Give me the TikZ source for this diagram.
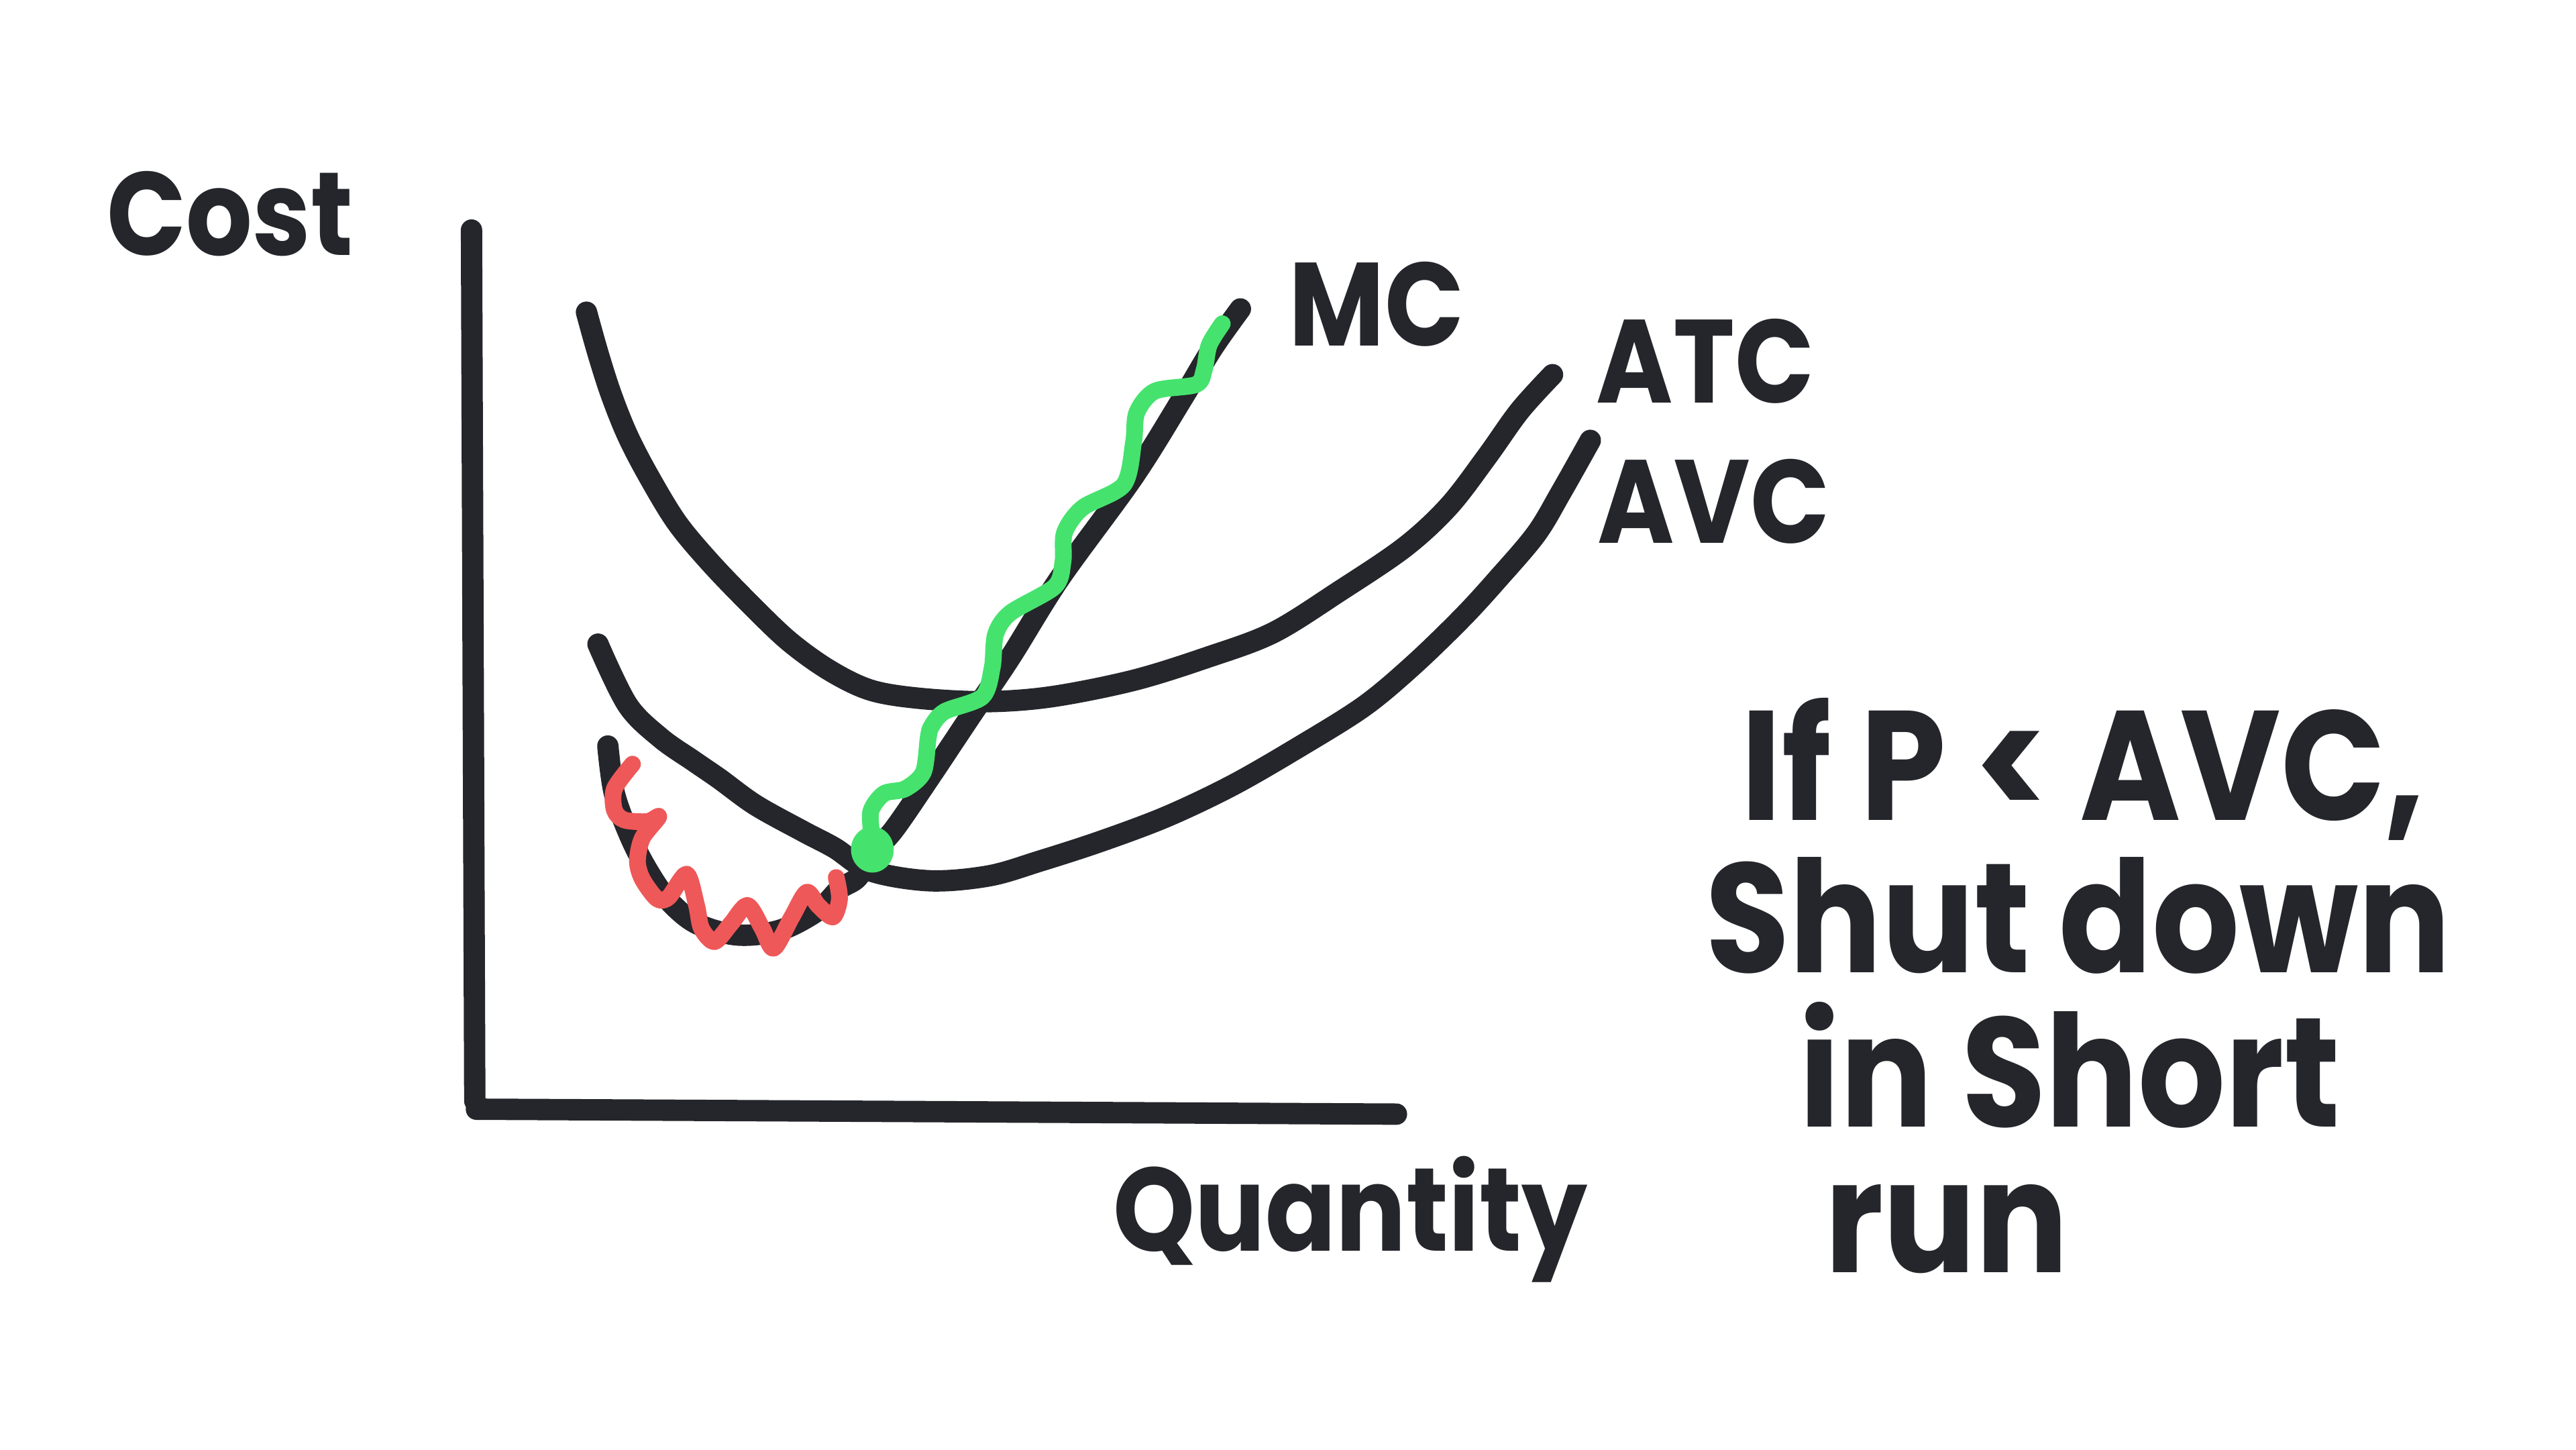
\documentclass[tikz,border=0pt]{standalone}
\usepackage{xcolor}
\usepackage{fontspec}
\setmainfont{Poppins}[FakeStretch=0.88]
\usepackage{tikz}
\definecolor{ink}{HTML}{25262B}
\definecolor{lossred}{HTML}{EF5858}
\definecolor{gaingreen}{HTML}{45E36E}
\tikzset{
    curve/.style={draw=ink, line width=3.7pt, line cap=round, line join=round},
    wiggle/.style={line width=2.9pt, line cap=round, line join=round},
    % Label Styles
    tag/.style={text=ink, inner sep=0pt, font=\bfseries\fontsize{20.5}{24}\selectfont},
    note/.style={text=ink, inner sep=0pt, font=\bfseries\fontsize{27}{32}\selectfont}
}
\begin{document}
\begin{tikzpicture}[x=0.1mm, y=-0.1mm]
    \fill[white] (0,0) rectangle (1568,882);
    \useasboundingbox (0,0) rectangle (1568,882);

    % axes
    \draw[curve] (287,140) -- (289,670);
    \draw[curve] (290,675) -- (850,678);

    % cost curves
    \draw[curve] plot[smooth, tension=0.55] coordinates {(357,190) (364,215) (372,240) (382,265) (395,290) (412,318) (432,342) (455,366) (480,390) (505,408) (530,420) (560,425) (600,427) (640,424) (690,414) (735,400) (775,385) (815,360) (855,333) (882,308) (905,278) (925,250) (945,228)};
    \draw[curve] plot[smooth, tension=0.55] coordinates {(364,392) (382,429) (402,449) (422,463) (438,474) (460,490) (489,506) (508,516) (530,530) (566,536) (602,533) (633,524) (670,512) (710,497) (750,478) (790,455) (830,430) (860,405) (890,376) (912,352) (935,325) (950,300) (968,268)};
    \draw[curve] plot[smooth, tension=0.55] coordinates {(370,454) (374,483) (384,510) (395,531) (407,548) (424,562) (449,569) (475,566) (498,554) (511,541) (522,534) (531,519) (544,505) (566,473) (590,437) (615,400) (645,352) (690,290) (720,242) (738,212) (755,188)};

    % loss and gain stretches of MC
    \draw[wiggle, lossred] plot[smooth, tension=0.5] coordinates {(385,465) (374,480) (374,493) (380,499) (394,500) (401,497) (391,510) (388,524) (391,535) (400,547) (407,546) (418,532) (424,551) (427,565) (435,573) (445,562) (455,551) (464,565) (471,577) (482,558) (491,543) (498,551) (507,558) (511,547) (509,534)};
    \draw[wiggle, gaingreen] plot[smooth, tension=0.5] coordinates {(531,510) (530,494) (538,483) (551,480) (562,470) (565,449) (567,442) (575,433) (598,424) (604,406) (606,386) (615,373) (642,357) (647,342) (648,324) (659,309) (684,295) (690,269) (692,251) (703,238) (728,234) (733,225) (736,210) (744,197)};
    \fill[gaingreen] (531,517) ellipse [x radius=13, y radius=14];

    % labels
    \node (costlbl) [tag] at (140,130) {Cost};
    \node (qtylbl) [tag] at (822,742) {Quantity};
    \node (mclbl) [tag] at (838,185) {MC};
    \node (atclbl) [tag] at (1038,220) {ATC};
    \node (avclbl) [tag] at (1043,305) {AVC};

    \node (ifline) [note] at (1268,468) {If P < AVC,};
    \node (shutline) [note] at (1265,557) {Shut down};
    \node (inline) [note] at (1260,648) {in Short};
    \node (runline) [note] at (1185,748) {run};
\end{tikzpicture}
\end{document}
